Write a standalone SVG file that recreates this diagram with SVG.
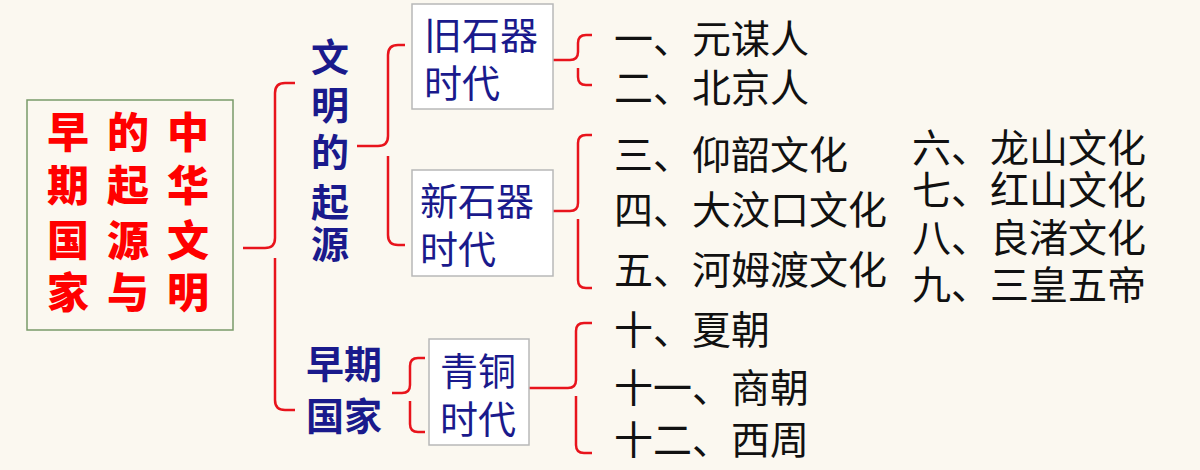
<svg xmlns="http://www.w3.org/2000/svg" width="1200" height="470" viewBox="0 0 1200 470">
<style>
.br{fill:none;stroke:#e8141c;stroke-width:2.5}
.box{fill:#fff;stroke:#b8b8b8;stroke-width:1.5}
.t{font-family:"Noto Sans CJK SC",sans-serif;font-size:39px;fill:#111}
.b{font-family:"Noto Sans CJK SC",sans-serif;font-size:38px;fill:#1a1a8c}
.bb{font-family:"Noto Sans CJK SC",sans-serif;font-size:38px;fill:#1a1a8c;font-weight:bold}
.r{font-family:"Noto Sans CJK SC",sans-serif;font-size:42px;fill:#f00;font-weight:900}
</style>
<rect width="1200" height="470" fill="#fbf8f0"/>
<g id="connectors">
<path class="br" d="M243 248 H265 Q275 248 275 238 V93 Q275 83 285 83 H295 M275 258 V400 Q275 410 285 410 H295"/>
<path class="br" d="M357 146 H378 Q388 146 388 136 V55 Q388 45 398 45 H405 M388 156 V235 Q388 245 398 245 H405"/>
<path class="br" d="M392 393 H402 Q410 393 410 385 V366 Q410 358 418 358 H425 M410 401 V424 Q410 432 418 432 H425"/>
<path class="br" d="M553 60 H570 Q578 60 578 52 V43 Q578 35 586 35 H592 M578 68 V77 Q578 85 586 85 H592"/>
<path class="br" d="M553 211 H570 Q578 211 578 203 V143 Q578 135 586 135 H592 M578 219 V280 Q578 288 586 288 H592"/>
<path class="br" d="M529 388 H568 Q576 388 576 380 V331 Q576 323 584 323 H592 M576 396 V445 Q576 453 584 453 H592"/>
</g>
<g id="root">
<rect x="27" y="100" width="206" height="230" fill="#fbf8f0" stroke="#7a9a6a" stroke-width="1.5"/>
<g class="r" text-anchor="middle">
<text x="68" y="148">早</text><text x="68" y="201">期</text><text x="68" y="256">国</text><text x="68" y="308">家</text>
<text x="128" y="148">的</text><text x="128" y="201">起</text><text x="128" y="256">源</text><text x="128" y="308">与</text>
<text x="188" y="148">中</text><text x="188" y="201">华</text><text x="188" y="256">文</text><text x="188" y="308">明</text>
</g>
</g>
<g id="origin" class="bb" text-anchor="middle">
<text x="330" y="71">文</text><text x="330" y="119">明</text><text x="330" y="166">的</text><text x="330" y="216">起</text><text x="330" y="258">源</text>
</g>
<g id="early" class="bb">
<text x="306" y="378">早期</text><text x="306" y="430">国家</text>
</g>
<g id="paleo"><rect class="box" x="412" y="4" width="141" height="105"/><text class="b" x="424" y="49">旧石器</text><text class="b" x="424" y="97">时代</text></g>
<g id="neo"><rect class="box" x="412" y="170" width="141" height="106"/><text class="b" x="420" y="215">新石器</text><text class="b" x="420" y="263">时代</text></g>
<g id="bronze"><rect class="box" x="429" y="339" width="100" height="106"/><text class="b" x="440" y="385">青铜</text><text class="b" x="440" y="433">时代</text></g>
<g id="items" class="t">
<text x="614" y="53">一、元谋人</text>
<text x="614" y="102">二、北京人</text>
<text x="614" y="169">三、仰韶文化</text>
<text x="614" y="224">四、大汶口文化</text>
<text x="614" y="284">五、河姆渡文化</text>
<text x="614" y="344">十、夏朝</text>
<text x="614" y="402">十一、商朝</text>
<text x="614" y="454">十二、西周</text>
<text x="912" y="162">六、龙山文化</text>
<text x="912" y="204">七、红山文化</text>
<text x="912" y="252">八、良渚文化</text>
<text x="912" y="299">九、三皇五帝</text>
</g>
</svg>
